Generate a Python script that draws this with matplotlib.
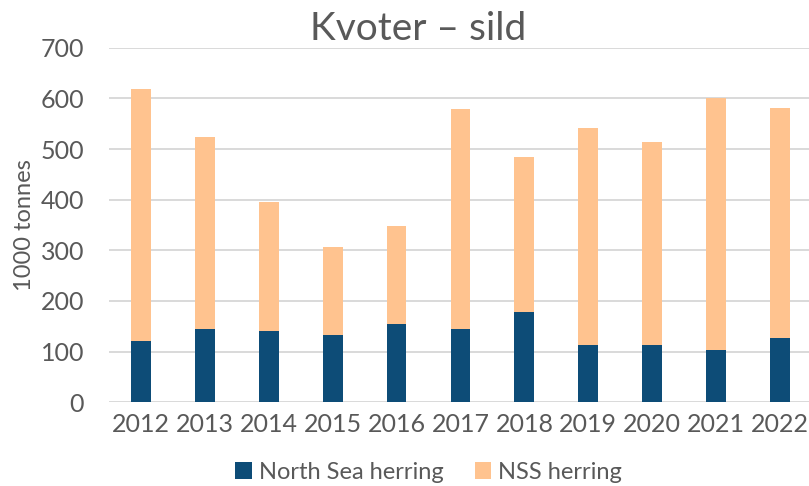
import matplotlib
matplotlib.use("Agg")
import matplotlib.pyplot as plt
import numpy as np

# quota data, 1000 tonnes
years = ["2012", "2013", "2014", "2015", "2016", "2017",
         "2018", "2019", "2020", "2021", "2022"]
north_sea = [122, 145, 140, 133, 155, 145, 179, 114, 114, 104, 126]
nss = [497, 378, 255, 174, 193, 433, 305, 428, 399, 496, 455]

plt.rcParams['font.family'] = ['Lato', 'DejaVu Sans']
grey = "#595959"

fig = plt.figure(figsize=(8.09, 4.86), dpi=100)
ax = fig.add_axes([0.1347, 0.1722, 1.0037 - 0.1347, 0.9019 - 0.1722])

x = np.arange(len(years))
w = 0.31
ax.bar(x, north_sea, w, color="#0D4C77", label="North Sea herring", zorder=3)
ax.bar(x, nss, w, bottom=north_sea, color="#FFC38F", label="NSS herring", zorder=3)

ax.set_xlim(-0.5, len(years) - 0.5)
ax.set_ylim(0, 700)
ax.set_yticks(range(0, 701, 100))
ax.set_xticks(x)
ax.set_xticklabels(years)
ax.grid(axis="y", color="#D9D9D9", linewidth=1.4, zorder=0)
for s in ax.spines.values():
    s.set_visible(False)
ax.tick_params(length=0, labelsize=18, colors=grey, pad=8)
ax.tick_params(axis="y", pad=18)
ax.set_ylabel("1000 tonnes", fontsize=17, color=grey, labelpad=4)

fig.text(0.517, 0.94, "Kvoter – sild", ha="center", va="center",
         fontsize=28, color=grey)

fig.legend(loc="center", bbox_to_anchor=(0.53, 0.028), ncol=2, frameon=False,
           fontsize=17, labelcolor=grey, handlelength=0.7, handleheight=0.7,
           handletextpad=0.3, columnspacing=1.3)

fig.savefig("out.png", dpi=100)
